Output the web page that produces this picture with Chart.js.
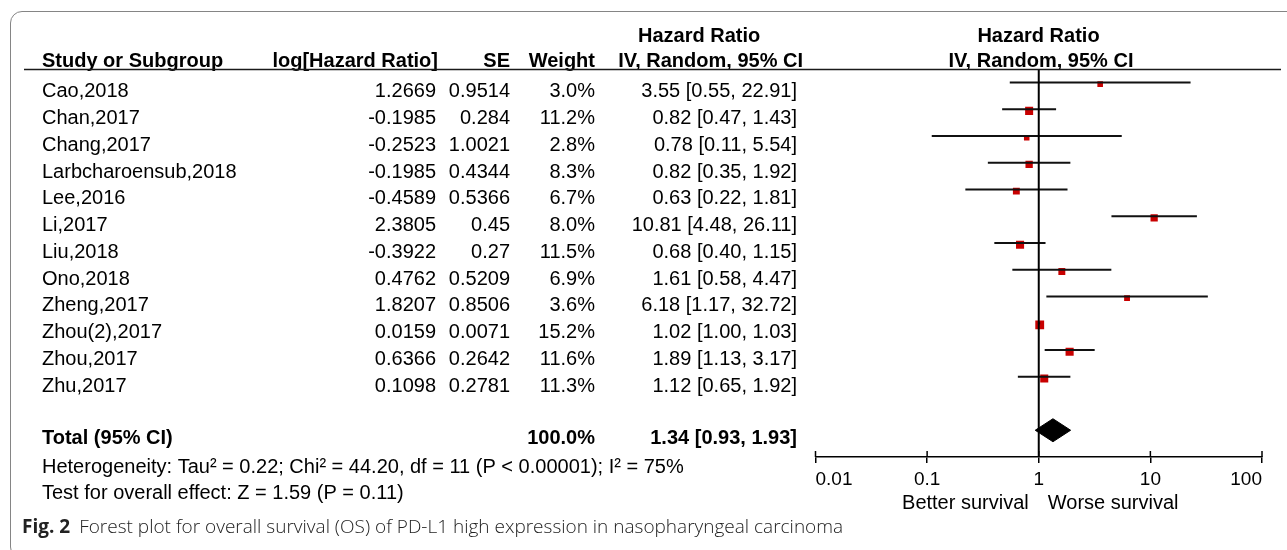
<!DOCTYPE html>
<html><head><meta charset="utf-8">
<script src="https://cdn.jsdelivr.net/npm/chart.js@4.4.0/dist/chart.umd.min.js"></script>
<style>
html,body{margin:0;padding:0;background:#fff;}
#wrap{position:relative;width:1287px;height:550px;overflow:hidden;background:#fff;}
#frame{position:absolute;left:10px;top:10.5px;width:1320px;height:548px;border:1.5px solid #858585;border-radius:12px;box-sizing:border-box;}
canvas{position:absolute;left:0;top:0;}
</style></head><body>
<div id="wrap"><div id="frame"></div><canvas id="c" width="1287" height="550"></canvas></div>
<script>
// ---- data ----
const studies = ["Cao,2018","Chan,2017","Chang,2017","Larbcharoensub,2018","Lee,2016","Li,2017","Liu,2018","Ono,2018","Zheng,2017","Zhou(2),2017","Zhou,2017","Zhu,2017"];
const logHR = [1.2669,-0.1985,-0.2523,-0.1985,-0.4589,2.3805,-0.3922,0.4762,1.8207,0.0159,0.6366,0.1098];
const se = [0.9514,0.284,1.0021,0.4344,0.5366,0.45,0.27,0.5209,0.8506,0.0071,0.2642,0.2781];
const weight = [3.0,11.2,2.8,8.3,6.7,8.0,11.5,6.9,3.6,15.2,11.6,11.3];
const hr = [3.55,0.82,0.78,0.82,0.63,10.81,0.68,1.61,6.18,1.02,1.89,1.12];
const ciLow = [0.55,0.47,0.11,0.35,0.22,4.48,0.40,0.58,1.17,1.00,1.13,0.65];
const ciHigh = [22.91,1.43,5.54,1.92,1.81,26.11,1.15,4.47,32.72,1.03,3.17,1.92];
const totalWeight = 100.0;
const totalHR = 1.34, totalLow = 0.93, totalHigh = 1.93;
const tickValues = [0.01,0.1,1,10,100];
const tickLabels = ["0.01","0.1","1","10","100"];
const heterogeneityText = "Heterogeneity: Tau\u00b2 = 0.22; Chi\u00b2 = 44.20, df = 11 (P < 0.00001); I\u00b2 = 75%";
const overallText = "Test for overall effect: Z = 1.59 (P = 0.11)";
const axisLeftLabel = "Better survival", axisRightLabel = "Worse survival";
const captionBold = "Fig. 2", captionText = "Forest plot for overall survival (OS) of PD-L1 high expression in nasopharyngeal carcinoma";

// ---- styling constants ----
const FONT = '"Liberation Sans", Arial, sans-serif';
const FS = 20;
const RED = '#c80000';
const TEXT_DY = 15;       // baseline offset of table text from plot row
const SQUARE_DY = 0.065;  // squares sit slightly below CI line
const totalRow = studies.length + 1;

const fmt2 = v => v.toFixed(2);
const ciText = (e,l,h) => fmt2(e) + " [" + fmt2(l) + ", " + fmt2(h) + "]";

const textPlugin = {
  id: 'forestText',
  afterDraw(chart) {
    const ctx = chart.ctx, ys = chart.scales.y, xs = chart.scales.x;
    ctx.save();
    ctx.fillStyle = '#000';
    const put = (s, x, y, align, bold, font) => {
      ctx.font = font || ((bold ? 'bold ' : '') + FS + 'px ' + FONT);
      ctx.textAlign = align || 'left';
      ctx.textBaseline = 'alphabetic';
      ctx.fillText(s, x, y);
    };
    // headers
    put("Hazard Ratio", 638, 41.5, 'left', true);
    put("Hazard Ratio", 1038.5, 41.5, 'center', true);
    put("Study or Subgroup", 42, 66.5, 'left', true);
    put("log[Hazard Ratio]", 438, 66.5, 'right', true);
    put("SE", 510, 66.5, 'right', true);
    put("Weight", 595, 66.5, 'right', true);
    put("IV, Random, 95% CI", 803, 66.5, 'right', true);
    put("IV, Random, 95% CI", 1041, 66.5, 'center', true);
    // header underline
    ctx.strokeStyle = '#1a1a1a'; ctx.lineWidth = 1.5;
    ctx.beginPath(); ctx.moveTo(24, 69.5); ctx.lineTo(1281, 69.5); ctx.stroke();
    // study rows
    studies.forEach((s, i) => {
      const y = ys.getPixelForValue(i) + TEXT_DY;
      put(s, 42, y, 'left');
      put(String(logHR[i]), 436, y, 'right');
      put(String(se[i]), 510, y, 'right');
      put(weight[i].toFixed(1) + '%', 595, y, 'right');
      put(ciText(hr[i], ciLow[i], ciHigh[i]), 797, y, 'right');
    });
    // total
    const ty = ys.getPixelForValue(totalRow) + TEXT_DY - 1;
    put("Total (95% CI)", 42, ty, 'left', true);
    put(totalWeight.toFixed(1) + '%', 595, ty, 'right', true);
    put(ciText(totalHR, totalLow, totalHigh), 797, ty, 'right', true);
    put(heterogeneityText, 42, ys.getPixelForValue(totalRow + 1) + 16, 'left');
    put(overallText, 42, ys.getPixelForValue(totalRow + 2) + 15.5, 'left');
    // upper halves of axis ticks
    ctx.strokeStyle = '#000'; ctx.lineWidth = 1.5;
    const b = chart.chartArea.bottom;
    tickValues.forEach(v => {
      const px = xs.getPixelForValue(v);
      ctx.beginPath(); ctx.moveTo(px, b - 6); ctx.lineTo(px, b); ctx.stroke();
    });
    const one = xs.getPixelForValue(1);
    put(axisLeftLabel, one - 10, 509, 'right');
    put(axisRightLabel, one + 9, 509, 'left');
    // caption
    ctx.fillStyle = '#222';
    put(captionBold, 22, 533, 'left', false, 'bold 19px "Open Sans", "Noto Sans", sans-serif');
    const w = ctx.measureText(captionBold).width;
    put(captionText, 22 + w + 9, 533, 'left', false, '300 19px "Open Sans", "Noto Sans", sans-serif');
    ctx.restore();
  }
};

const datasets = [];
// line of no effect
datasets.push({data: [{x: 1, y: -0.5}, {x: 1, y: 14}], showLine: true, borderColor: '#000', borderWidth: 2, pointRadius: 0});
// confidence intervals
studies.forEach((s, i) => {
  datasets.push({data: [{x: ciLow[i], y: i}, {x: ciHigh[i], y: i}], showLine: true, borderColor: '#111', borderWidth: 2, pointRadius: 0});
});
// study estimates
datasets.push({
  data: hr.map((v, i) => ({x: v, y: i + SQUARE_DY})),
  pointStyle: 'rect',
  pointRadius: weight.map(w => (3 + 1.5 * Math.sqrt(w)) / Math.SQRT2),
  pointBackgroundColor: RED, pointBorderWidth: 0, borderWidth: 0, showLine: false
});
// pooled diamond
const DH = 0.43;
datasets.push({
  data: [{x: totalLow, y: totalRow}, {x: totalHR, y: totalRow - DH}, {x: totalHigh, y: totalRow}, {x: totalHR, y: totalRow + DH}, {x: totalLow, y: totalRow}],
  showLine: true, fill: 'shape', backgroundColor: '#000', borderColor: '#000', borderWidth: 1, pointRadius: 0, tension: 0
});

new Chart(document.getElementById('c'), {
  type: 'scatter',
  data: {datasets},
  options: {
    responsive: false, animation: false, events: [], devicePixelRatio: 1,
    layout: {padding: {left: 815.5, right: 25, top: 69, bottom: 53}},
    plugins: {legend: {display: false}, tooltip: {enabled: false}},
    scales: {
      x: {
        type: 'logarithmic', min: 0.01, max: 100, position: 'bottom',
        afterBuildTicks: s => { s.ticks = tickValues.map(v => ({value: v})); },
        afterFit: s => { s.height = 40; },
        border: {display: true, color: '#000', width: 1.5},
        grid: {display: true, drawOnChartArea: false, drawTicks: true, tickLength: 6, color: '#000', lineWidth: 1.5},
        ticks: {autoSkip: false, maxRotation: 0, align: 'inner', padding: 5.5, color: '#000',
                font: {family: FONT, size: 19}, callback: (v, i) => tickLabels[i]}
      },
      y: {type: 'linear', min: -0.5, max: 14, reverse: true, display: false}
    }
  },
  plugins: [textPlugin]
});
</script>
</body></html>
